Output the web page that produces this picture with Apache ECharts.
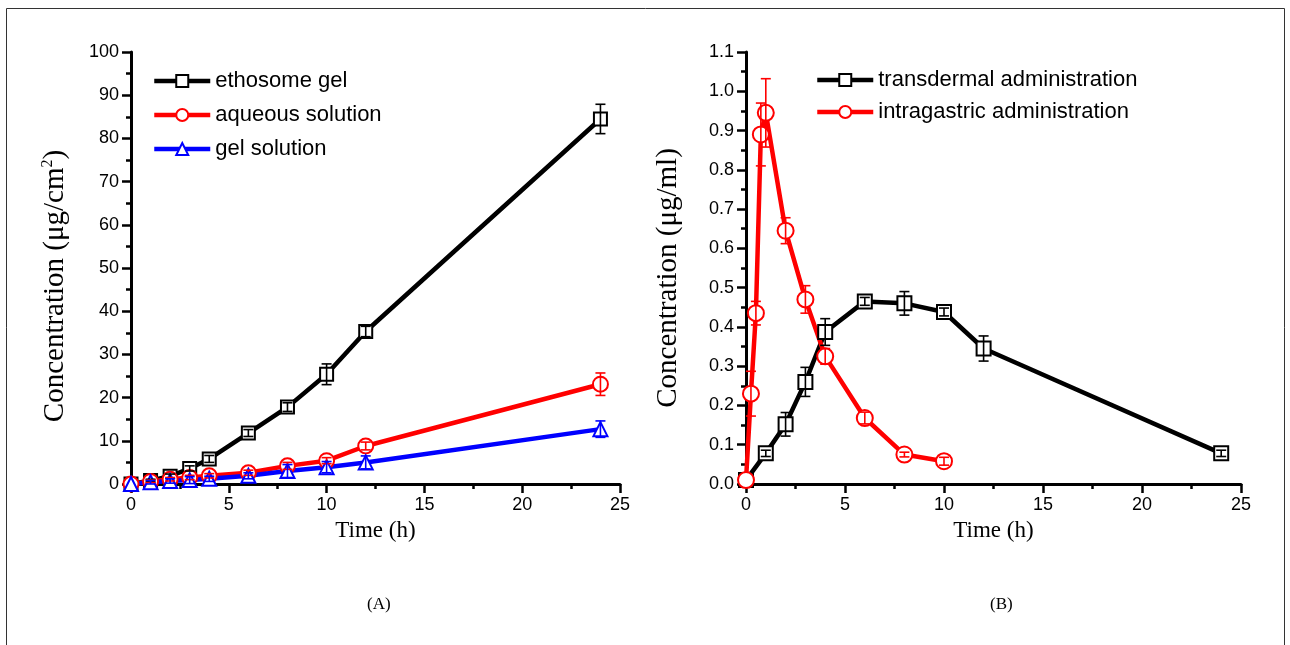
<!DOCTYPE html>
<html>
<head>
<meta charset="utf-8">
<script src="https://cdn.jsdelivr.net/npm/echarts@6/dist/echarts.min.js"></script>
<style>
  html, body { margin: 0; padding: 0; background: #fff; }
  #chart { width: 1290px; height: 645px; }
</style>
</head>
<body>
<div id="chart"></div>
<script>
// (A) permeation
const timeA = [0, 1, 2, 3, 4, 6, 8, 10, 12, 24];
const ethosomeGel = [0, 0.8, 1.8, 3.6, 5.8, 11.8, 17.8, 25.4, 35.3, 84.5];
const ethosomeErr = [0, 0.3, 0.5, 0.6, 0.8, 0.8, 1.0, 2.4, 1.2, 3.4];
const aqueousSol = [0, 0.6, 1.1, 1.5, 1.9, 2.6, 4.2, 5.4, 8.8, 23.1];
const aqueousErr = [0, 0.3, 0.4, 0.5, 0.5, 0.6, 0.8, 0.7, 0.9, 2.6];
const gelSol = [0, 0.4, 0.7, 0.9, 1.2, 1.9, 3.0, 3.9, 5.0, 12.7];
const gelErr = [0, 0.4, 0.5, 0.8, 0.6, 0.7, 1.5, 1.3, 1.5, 1.9];

// (B) plasma
const timeTd = [0, 1, 2, 3, 4, 6, 8, 10, 12, 24];
const transdermal = [0.01, 0.078, 0.152, 0.26, 0.387, 0.465, 0.46, 0.438, 0.345, 0.078];
const transdermalErr = [0, 0.008, 0.03, 0.037, 0.034, 0.01, 0.03, 0.01, 0.032, 0.008];
const timeIg = [0, 0.25, 0.5, 0.75, 1, 2, 3, 4, 6, 8, 10];
const intragastric = [0.01, 0.23, 0.435, 0.89, 0.945, 0.645, 0.47, 0.325, 0.168, 0.075, 0.058];
const intragastricErr = [0, 0.057, 0.03, 0.08, 0.087, 0.033, 0.035, 0.02, 0.015, 0.006, 0.01];

const sans = 'Liberation Sans, Arial, sans-serif';
const serif = 'Liberation Serif, Times New Roman, serif';

const pairs = (xs, ys) => xs.map((x, i) => [x, ys[i]]);
const errPairs = (xs, ys, es) => xs.map((x, i) => [x, ys[i], es[i]]);

const chart = echarts.init(document.getElementById('chart'));

// 误差棒
const errorBar = (color) => (params, api) => {
  const x = api.value(0);
  const y = api.value(1);
  const e = api.value(2);
  if (!e) return null;
  const top = api.coord([x, y + e]);
  const bot = api.coord([x, y - e]);
  const w = 5;
  const style = { stroke: color, lineWidth: 1.6 };
  return {
    type: 'group',
    children: [
      { type: 'line', shape: { x1: top[0], y1: top[1], x2: bot[0], y2: bot[1] }, style },
      { type: 'line', shape: { x1: top[0] - w, y1: top[1], x2: top[0] + w, y2: top[1] }, style },
      { type: 'line', shape: { x1: bot[0] - w, y1: bot[1], x2: bot[0] + w, y2: bot[1] }, style },
    ],
  };
};

const xAxisBase = {
  type: 'value',
  min: 0,
  max: 25,
  interval: 5,
  name: 'Time (h)',
  nameLocation: 'middle',
  nameGap: 35,
  nameTextStyle: { fontFamily: serif, fontSize: 23, color: '#000' },
  axisLine: { show: true, lineStyle: { color: '#000', width: 3 } },
  axisTick: { show: true, length: 9, lineStyle: { color: '#000', width: 2.5 } },
  minorTick: { show: true, splitNumber: 2, length: 5, lineStyle: { color: '#000', width: 2.5 } },
  axisLabel: { fontFamily: sans, fontSize: 18, color: '#000', margin: 12 },
  splitLine: { show: false },
};

const yAxisBase = {
  type: 'value',
  min: 0,
  nameLocation: 'middle',
  nameTextStyle: { fontFamily: serif, fontSize: 29, color: '#000' },
  axisLine: { show: true, lineStyle: { color: '#000', width: 3 } },
  axisTick: { show: true, length: 9, lineStyle: { color: '#000', width: 2.5 } },
  minorTick: { show: true, splitNumber: 2, length: 5, lineStyle: { color: '#000', width: 2.5 } },
  axisLabel: { fontFamily: sans, fontSize: 18, color: '#000', margin: 12 },
  splitLine: { show: false },
};

const lineSeries = (name, data, color, symbol, size, xi) => ({
  name,
  type: 'line',
  xAxisIndex: xi,
  yAxisIndex: xi,
  data,
  symbol,
  symbolSize: size,
  showAllSymbol: true,
  lineStyle: { color, width: 4.5 },
  itemStyle: { color: '#fff', borderColor: color, borderWidth: 2 },
  z: 3,
});

const barSeries = (data, color, xi) => ({
  type: 'custom',
  xAxisIndex: xi,
  yAxisIndex: xi,
  data,
  renderItem: errorBar(color),
  encode: { x: 0, y: 1 },
  z: 4,
  silent: true,
});

const legendBase = {
  orient: 'vertical',
  itemWidth: 56,
  itemHeight: 15,
  itemGap: 10,
  lineStyle: { width: 4.5 },
  textStyle: { fontFamily: sans, fontSize: 22, lineHeight: 24, color: '#000' },
};

const option = {
  animation: false,
  backgroundColor: '#fff',
  graphic: [
    {
      type: 'rect',
      shape: { x: 6.5, y: 8.5, width: 1278, height: 660 },
      style: { fill: 'none', stroke: '#333', lineWidth: 1 },
    },
  ],
  title: [
    { text: '(A)', left: 362, top: 591, textStyle: { fontFamily: serif, fontSize: 17, fontWeight: 'normal', color: '#000' } },
    { text: '(B)', left: 985, top: 591, textStyle: { fontFamily: serif, fontSize: 17, fontWeight: 'normal', color: '#000' } },
  ],
  legend: [
    {
      ...legendBase,
      left: 147,
      top: 64,
      data: ['ethosome gel', 'aqueous solution', 'gel solution'],
    },
    {
      ...legendBase,
      left: 810,
      top: 63,
      itemGap: 8,
      data: ['transdermal administration', 'intragastric administration'],
    },
  ],
  grid: [
    { left: 131, top: 52, width: 489, height: 432 },
    { left: 746, top: 52, width: 495, height: 432 },
  ],
  xAxis: [
    { ...xAxisBase, gridIndex: 0 },
    { ...xAxisBase, gridIndex: 1 },
  ],
  yAxis: [
    {
      ...yAxisBase,
      gridIndex: 0,
      max: 100,
      interval: 10,
      name: 'Concentration (μg/cm{sup|2})',
      nameGap: 61,
      nameTextStyle: {
        ...yAxisBase.nameTextStyle,
        padding: [0, 36, 0, 0],
        rich: { sup: { fontFamily: serif, fontSize: 16, verticalAlign: 'top', padding: [0, 0, 14, 0] } },
      },
    },
    {
      ...yAxisBase,
      gridIndex: 1,
      max: 1.1,
      interval: 0.1,
      name: 'Concentration (μg/ml)',
      nameGap: 63,
      nameTextStyle: { ...yAxisBase.nameTextStyle, padding: [0, 20, 0, 0] },
      axisLabel: { ...yAxisBase.axisLabel, formatter: (v) => v.toFixed(1) },
    },
  ],
  series: [
    lineSeries('ethosome gel', pairs(timeA, ethosomeGel), '#000', 'rect', 13, 0),
    lineSeries('aqueous solution', pairs(timeA, aqueousSol), '#ff0000', 'circle', 15, 0),
    lineSeries('gel solution', pairs(timeA, gelSol), '#0000ff', 'triangle', 14, 0),
    barSeries(errPairs(timeA, ethosomeGel, ethosomeErr), '#000', 0),
    barSeries(errPairs(timeA, aqueousSol, aqueousErr), '#ff0000', 0),
    barSeries(errPairs(timeA, gelSol, gelErr), '#0000ff', 0),
    lineSeries('transdermal administration', pairs(timeTd, transdermal), '#000', 'rect', 14, 1),
    lineSeries('intragastric administration', pairs(timeIg, intragastric), '#ff0000', 'circle', 16, 1),
    barSeries(errPairs(timeTd, transdermal, transdermalErr), '#000', 1),
    barSeries(errPairs(timeIg, intragastric, intragastricErr), '#ff0000', 1),
  ],
};

chart.setOption(option);
window.addEventListener('resize', () => chart.resize());
</script>
</body>
</html>
